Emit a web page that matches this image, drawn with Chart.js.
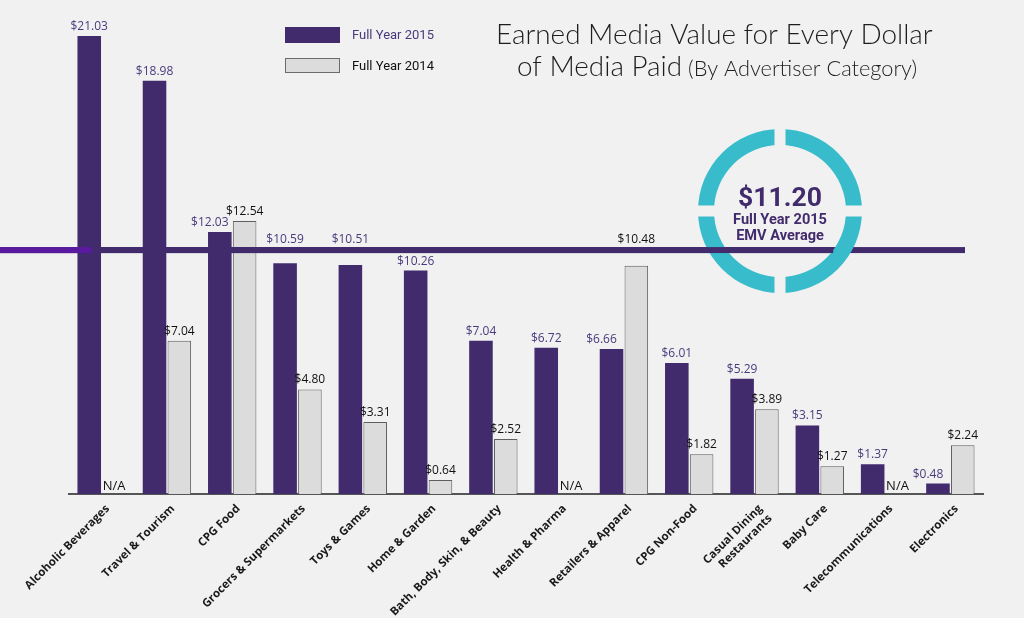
<!DOCTYPE html>
<html>
<head>
<meta charset="utf-8">
<script src="https://cdn.jsdelivr.net/npm/chart.js@4.4.1/dist/chart.umd.min.js"></script>
<style>
  html, body { margin: 0; padding: 0; background: #f1f1f1; }
  #wrap { width: 1024px; height: 618px; position: relative; }
</style>
</head>
<body>
<div id="wrap"><canvas id="c" width="1024" height="618"></canvas></div>
<script>
const categories = [
  "Alcoholic Beverages", "Travel & Tourism", "CPG Food", "Grocers & Supermarkets",
  "Toys & Games", "Home & Garden", "Bath, Body, Skin, & Beauty", "Health & Pharma",
  "Retailers & Apparel", "CPG Non-Food", ["Casual Dining", "Restaurants"], "Baby Care",
  "Telecommunications", "Electronics"
];
const values2015 = [21.03, 18.98, 12.03, 10.59, 10.51, 10.26, 7.04, 6.72, 6.66, 6.01, 5.29, 3.15, 1.37, 0.48];
const values2014 = [null, 7.04, 12.54, 4.80, 3.31, 0.64, 2.52, null, 10.48, 1.82, 3.89, 1.27, null, 2.24];
const seriesNames = ["Full Year 2015", "Full Year 2014"];
const averageValue = 11.20;
const averageLines = ["Full Year 2015", "EMV Average"];
const titleLine1 = "Earned Media Value for Every Dollar";
const titleLine2a = "of Media Paid";
const titleLine2b = " (By Advertiser Category)";

const PURPLE = "#412b6c";
const GRAY = "#dcdcdc";
const TEAL = "#38bccc";

function fitFont(ctx, text, weight, family, targetW) {
  ctx.font = weight + " 100px " + family;
  const w = ctx.measureText(text).width;
  return 100 * targetW / w;
}

const overlay = {
  id: "overlay",
  beforeDraw(chart) {
    const ctx = chart.ctx;
    ctx.save();
    ctx.fillStyle = "#f1f1f1";
    ctx.fillRect(0, 0, chart.width, chart.height);
    ctx.restore();
  },
  afterDatasetsDraw(chart) {
    const ctx = chart.ctx;
    const y = chart.scales.y;
    const area = chart.chartArea;
    ctx.save();

    const ay = y.getPixelForValue(averageValue);

    // average line
    ctx.fillStyle = PURPLE;
    ctx.fillRect(0, ay - 3, 965, 6);

    // ring
    const cx = 780, cy = 211, rO = 82, rI = 66;
    const gap = 5.5;
    ctx.fillStyle = TEAL;
    ctx.beginPath();
    ctx.arc(cx, cy, rO, 0, Math.PI * 2);
    ctx.arc(cx, cy, rI, 0, Math.PI * 2, true);
    ctx.closePath();
    ctx.fill("evenodd");
    ctx.fillStyle = "#f1f1f1";
    ctx.fillRect(cx - gap, cy - rO - 2, gap * 2, rO - rI + 4);
    ctx.fillRect(cx - gap, cy + rI - 2, gap * 2, rO - rI + 4);
    ctx.fillRect(cx - rO - 2, cy - gap, rO - rI + 4, gap * 2);
    ctx.fillRect(cx + rI - 2, cy - gap, rO - rI + 4, gap * 2);
    // line passes over the ring on the left side, under it on the right
    const dy = ay - cy;
    const innerRight = cx + Math.sqrt(Math.max(0, rI * rI - dy * dy));
    ctx.fillStyle = PURPLE;
    ctx.fillRect(0, ay - 3, innerRight, 6);
    // bright left tip of average line
    ctx.fillStyle = "#5a1aa0";
    ctx.fillRect(0, ay - 3, 92, 6);

    // value labels
    const m0 = chart.getDatasetMeta(0), m1 = chart.getDatasetMeta(1);
    ctx.textAlign = "center";
    ctx.textBaseline = "alphabetic";
    const labelY = (barY) => {
      let ly = barY - 6;
      if (ly > ay - 6 && ly - 9 < ay + 3) ly = ay - 7;
      return ly;
    };
    ctx.font = "12px 'Open Sans'";
    m0.data.forEach((bar, i) => {
      const v = values2015[i];
      ctx.fillStyle = "#4a3a7c";
      let dx = 0;
      if (values2014[i] !== null && values2014[i] > v) dx = -10;
      ctx.fillText("$" + v.toFixed(2), bar.x + dx, labelY(bar.y));
    });
    m1.data.forEach((bar, i) => {
      const v = values2014[i];
      ctx.fillStyle = "#111";
      if (v === null) {
        ctx.font = "13px 'Open Sans'";
        ctx.fillText("N/A", bar.x, area.bottom - 4);
        ctx.font = "12px 'Open Sans'";
        return;
      }
      ctx.fillText("$" + v.toFixed(2), bar.x, labelY(bar.y));
    });

    // circle text
    ctx.fillStyle = PURPLE;
    ctx.textAlign = "center";
    let fs = fitFont(ctx, "$" + averageValue.toFixed(2), "bold", "Roboto", 84);
    ctx.font = "bold " + fs + "px Roboto";
    ctx.fillText("$" + averageValue.toFixed(2), cx, 206);
    fs = fitFont(ctx, averageLines[0], "bold", "Roboto", 94);
    ctx.font = "bold " + fs + "px Roboto";
    ctx.fillText(averageLines[0], cx, 224);
    ctx.fillText(averageLines[1], cx, 240);

    // title
    ctx.fillStyle = "#1e1e1e";
    ctx.textAlign = "left";
    fs = fitFont(ctx, titleLine1, "300", "Lato", 437);
    ctx.font = "300 " + fs + "px Lato";
    ctx.fillText(titleLine1, 496, 44);
    const wA = ctx.measureText(titleLine2a).width;
    ctx.fillText(titleLine2a, 517, 76);
    ctx.font = "300 " + (fs * 0.78) + "px Lato";
    ctx.fillText(titleLine2b, 517 + wA, 76);

    // legend
    ctx.fillStyle = PURPLE;
    ctx.fillRect(285, 27, 55, 16);
    ctx.fillStyle = GRAY;
    ctx.fillRect(285, 58, 55, 15);
    ctx.strokeStyle = "#6b6b6b";
    ctx.lineWidth = 1;
    ctx.strokeRect(285.5, 58.5, 54, 14);
    ctx.font = "13px 'Liberation Sans Narrow', 'Roboto'";
    ctx.fillStyle = "#4a3a7c";
    ctx.textBaseline = "middle";
    ctx.fillText(seriesNames[0], 352, 36);
    ctx.fillStyle = "#111";
    ctx.fillText(seriesNames[1], 352, 67);

    ctx.restore();
  }
};

new Chart(document.getElementById("c"), {
  type: "bar",
  data: {
    labels: categories,
    datasets: [
      { label: seriesNames[0], data: values2015, backgroundColor: PURPLE, borderWidth: 0,
        categoryPercentage: 0.76, barPercentage: 0.95 },
      { label: seriesNames[1], data: values2014, backgroundColor: GRAY, borderColor: "#5e5e5e", borderWidth: 1,
        categoryPercentage: 0.76, barPercentage: 0.95 }
    ]
  },
  options: {
    responsive: false,
    animation: false,
    layout: { padding: { top: 10.5, left: 69, right: 41, bottom: 0 } },
    plugins: { legend: { display: false }, tooltip: { enabled: false } },
    scales: {
      y: { display: false, min: 0, max: 22.2 },
      x: {
        grid: { display: false },
        border: { display: true, color: "#555", width: 2 },
        ticks: {
          maxRotation: 45, minRotation: 45, padding: 0, labelOffset: 6,
          color: "#1a1a1a",
          font: { family: "'Open Sans'", weight: "bold", size: 11.5 }
        },
        afterFit(scale) { scale.height = 124; scale.paddingLeft = 0; scale.paddingRight = 0; }
      }
    }
  },
  plugins: [overlay]
});
</script>
</body>
</html>
